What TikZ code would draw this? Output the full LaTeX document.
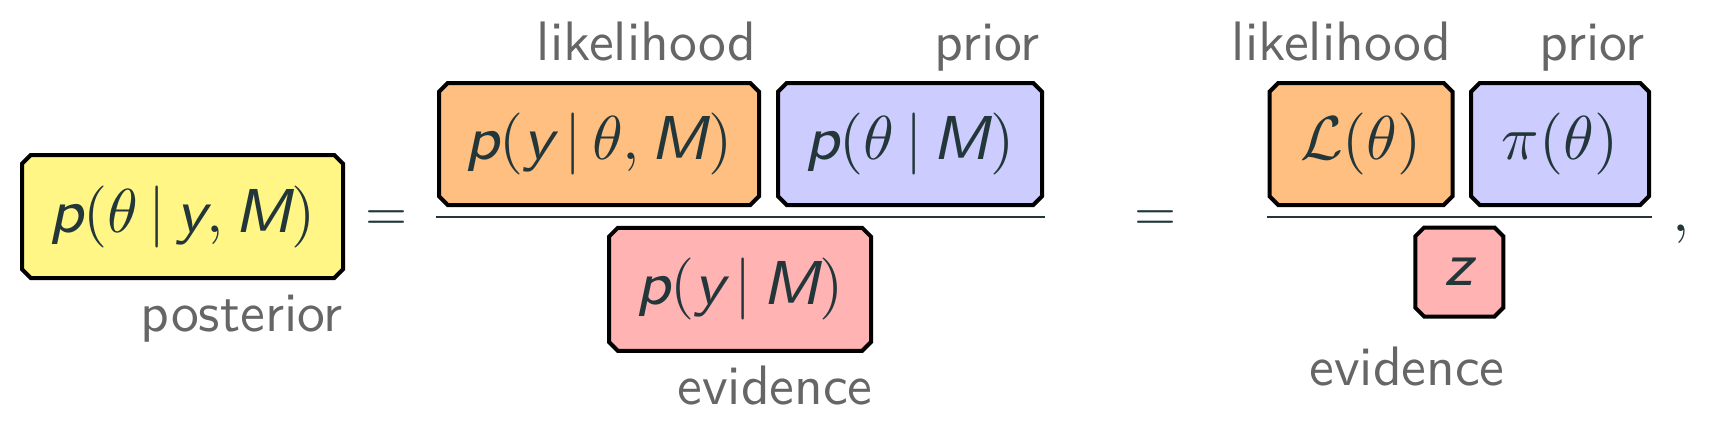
\documentclass[tikz,border=0pt]{standalone}
\usepackage{graphicx}
\usetikzlibrary{shapes.misc}
\definecolor{maintext}{HTML}{23373B}
\definecolor{labelgray}{HTML}{666666}
\definecolor{postyellow}{HTML}{FFF685}
\definecolor{likeorange}{HTML}{FFBF80}
\definecolor{priorblue}{HTML}{CCCCFF}
\definecolor{evidred}{HTML}{FFB3B3}
\newcommand{\sv}[1]{\mbox{\scalebox{1.25}{\fontsize{8}{10}\selectfont\sffamily\slshape #1}}}
\newcommand{\mbig}[1]{\scalebox{3.1}{$#1$}}
\newcommand{\lab}[1]{\scalebox{2.78}{\fontsize{10}{12}\selectfont\sffamily #1}}
\newcommand{\gv}{\mathord{\,|\,}}
\tikzset{
  eqbox/.style={chamfered rectangle, chamfered rectangle xsep=2.2pt, chamfered rectangle ysep=2.2pt,
    draw=black, line width=2pt, inner sep=0pt, text=maintext},
  lbl/.style={anchor=base east, inner sep=0pt, text=labelgray},
  eqsign/.style={anchor=base, inner sep=0pt, text=maintext},
  fracline/.style={draw=maintext, line width=1.2pt}
}
\begin{document}
\begin{tikzpicture}[x=0.5pt,y=-0.5pt]
\useasboundingbox (0,0) rectangle (1720,430);
% boxes
\node[eqbox, fill=postyellow, minimum width=160.5pt, minimum height=61.5pt] (post) at (182.5,216.5) {\mbig{\sv{p}(\theta\gv \sv{y}, \sv{M})}};
\node[eqbox, fill=likeorange, minimum width=160pt, minimum height=61pt] (like1) at (599,144) {\mbig{\sv{p}(\sv{y}\gv\theta, \sv{M})}};
\node[eqbox, fill=priorblue, minimum width=132pt, minimum height=61pt] (prior1) at (910,144) {\mbig{\sv{p}(\theta\gv \sv{M})}};
\node[eqbox, fill=evidred, minimum width=131pt, minimum height=61.5pt] (evid1) at (740,289.3) {\mbig{\sv{p}(\sv{y}\gv \sv{M})}};
\node[eqbox, fill=likeorange, minimum width=91.5pt, minimum height=61pt] (like2) at (1361,144) {\mbig{\mathcal{L}(\theta)}};
\node[eqbox, fill=priorblue, minimum width=89pt, minimum height=61pt] (prior2) at (1560,144) {\mbig{\pi(\theta)}};
\node[eqbox, fill=evidred, minimum width=44pt, minimum height=44.5pt] (evid2) at (1459.3,272) {\mbig{\sv{z}}};
% equals and comma
\node[eqsign] (eq1) at (386,230.2) {\scalebox{2.7}{$=$}};
\node[eqsign] (eq2) at (1155,230.2) {\scalebox{2.7}{$=$}};
\node[eqsign] (comma) at (1681,231.6) {\mbig{,}};
% fraction lines
\coordinate (f1a) at (436,216.7);
\coordinate (f1b) at (1045,216.7);
\coordinate (f2a) at (1267,216.7);
\coordinate (f2b) at (1652,216.7);
\draw[fracline] (f1a) -- (f1b);
\draw[fracline] (f2a) -- (f2b);
% labels
\node[lbl] (lposterior) at (343,331) {\lab{posterior}};
\node[lbl] (llike1) at (757,60) {\lab{likelihood}};
\node[lbl] (lprior1) at (1040,60) {\lab{prior}};
\node[lbl] (levid1) at (873,404) {\lab{evidence}};
\node[lbl] (llike2) at (1452,60) {\lab{likelihood}};
\node[lbl] (lprior2) at (1645,60) {\lab{prior}};
\node[lbl] (levid2) at (1505,385) {\lab{evidence}};
\end{tikzpicture}
\end{document}
